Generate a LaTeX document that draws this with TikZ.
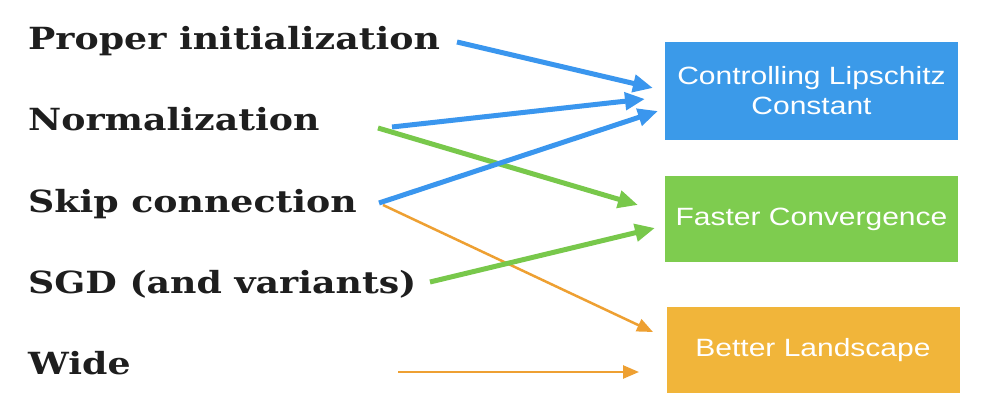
\documentclass[tikz,border=0pt]{standalone}
\usepackage{fontspec}
\usetikzlibrary{arrows.meta}
\newfontfamily\leftfont[FakeStretch=1.19]{DejaVu Serif}
\newfontfamily\boxfont[FakeStretch=1.2]{Liberation Sans}
\definecolor{cblue}{RGB}{59,154,233}
\definecolor{cgreen}{RGB}{126,204,79}
\definecolor{corange}{RGB}{241,181,58}
\definecolor{ablue}{RGB}{58,150,238}
\definecolor{agreen}{RGB}{120,200,75}
\definecolor{aorange}{RGB}{238,160,50}
\definecolor{txt}{RGB}{30,30,30}
\tikzset{
  lbl/.style={anchor=base west, inner sep=0pt, text=txt, font=\leftfont\bfseries\fontsize{30.5}{36}\selectfont},
  outbox/.style={minimum width=293pt, minimum height=98pt, inner sep=0pt, text=white, align=center,
     font=\boxfont\fontsize{25}{30}\selectfont},
  thick arrow/.style={line width=5pt, -{Triangle[length=20pt,width=17pt]}},
  thin arrow/.style={line width=2.5pt, -{Triangle[length=16pt,width=13pt]}}
}
\begin{document}
\begin{tikzpicture}[x=1pt,y=-1pt]
\useasboundingbox (0,0) rectangle (1000,414);
\fill[white] (0,0) rectangle (1000,414);
% left labels
\node[lbl] (pi) at (28,50) {Proper initialization};
\node[lbl] (no) at (28,131) {Normalization};
\node[lbl] (sc) at (28,212) {Skip connection};
\node[lbl] (sg) at (28,293) {SGD (and variants)};
\node[lbl] (wi) at (28,374) {Wide};
% boxes
\node[outbox, fill=cblue] (lip) at (811.5,91) {Controlling Lipschitz\\Constant};
\node[outbox, fill=cgreen, minimum height=86pt] (fc) at (811.5,219) {Faster Convergence};
\node[outbox, fill=corange, minimum height=86pt] (bl) at (813,350) {Better Landscape};
% connector ends
\coordinate (piS) at (457,42);
\coordinate (noS) at (392,127);
\coordinate (noS2) at (378,128);
\coordinate (scS) at (379,203);
\coordinate (scS2) at (383,205);
\coordinate (sgS) at (430,282);
\coordinate (wiS) at (398,372);
\coordinate (lipA) at (653,88);
\coordinate (lipB) at (645,99);
\coordinate (lipC) at (658,111);
\coordinate (fcA) at (638,205);
\coordinate (fcB) at (655,228);
\coordinate (blA) at (653,332);
\coordinate (blB) at (639,372);
% connectors
\draw[thin arrow, aorange] (scS2) -- (blA);
\draw[thin arrow, aorange] (wiS) -- (blB);
\draw[thick arrow, agreen] (noS2) -- (fcA);
\draw[thick arrow, agreen] (sgS) -- (fcB);
\draw[thick arrow, ablue] (piS) -- (lipA);
\draw[thick arrow, ablue] (noS) -- (lipB);
\draw[thick arrow, ablue] (scS) -- (lipC);
\end{tikzpicture}
\end{document}
